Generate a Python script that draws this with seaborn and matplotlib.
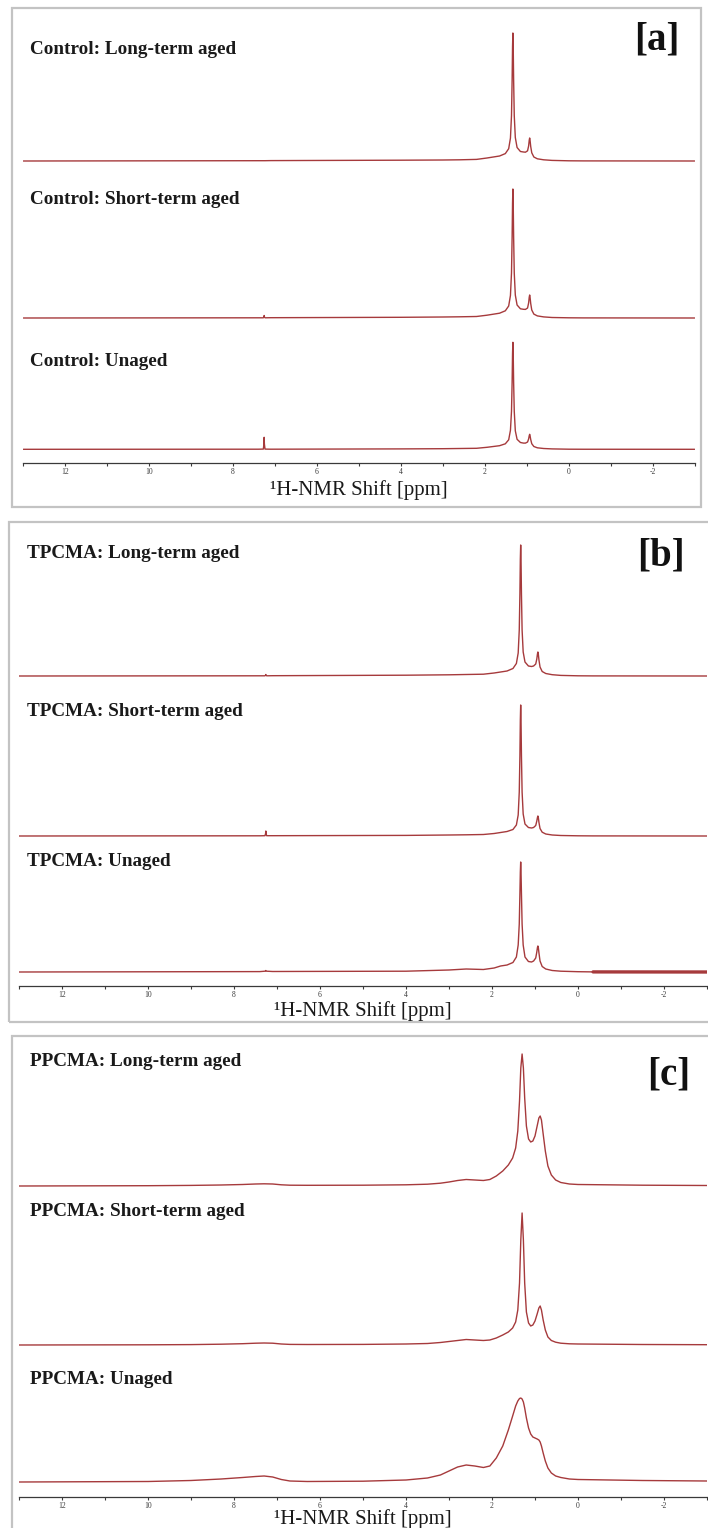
import numpy as np
import pandas as pd
import matplotlib
matplotlib.use("Agg")
import matplotlib.pyplot as plt
from matplotlib.patches import Rectangle
from matplotlib.ticker import MultipleLocator
import seaborn as sns

# ---------------- data ----------------
# shared chemical-shift grid (ppm) for the sharp spectra (Control, TPCMA)
sharp_ppm = [13.0, 7.40, 7.28, 7.265, 7.26, 7.255, 7.24, 7.10, 4.0, 3.0, 2.6, 2.2,
             1.95, 1.80, 1.65, 1.513, 1.433, 1.391, 1.366, 1.351, 1.341, 1.333,
             1.325, 1.315, 1.300, 1.275, 1.233, 1.153, 1.08, 1.033, 0.983, 0.958,
             0.943, 0.933, 0.923, 0.908, 0.883, 0.833, 0.75, 0.60, 0.40, 0.0,
             -0.35, -3.0]

control_long = [0, 0.3, 0.3, 0.3, 0.3, 0.3, 0.3, 0.4, 0.8, 1.0, 1.2, 1.6,
                3.0, 4.0, 5.0, 7.4, 12.3, 22.9, 45.4, 80.8, 114.5, 128,
                114.5, 80.8, 45.4, 23.5, 13.5, 9.5, 9.0, 8.8, 10.2, 15,
                20.8, 23, 20.5, 14.5, 8.2, 4.0, 2.2, 1.2, 0.6, 0.2, 0.1, 0]
control_short = [0, 0.2, 0.2, 1.2, 2.5, 1.2, 0.2, 0.3, 0.7, 1.0, 1.2, 1.5,
                 2.8, 3.8, 4.8, 7.2, 12, 22.5, 45, 81, 115, 129,
                 115, 81, 45, 23, 13, 9.2, 8.7, 8.6, 10, 15,
                 20.8, 23, 20.5, 14.5, 8, 3.9, 2.1, 1.1, 0.5, 0.2, 0.1, 0]
control_unaged = [0, 0.1, 0.2, 5.5, 12, 5.5, 0.2, 0.1, 0.4, 0.6, 0.8, 1.0,
                  2.0, 2.8, 3.6, 5.5, 9.5, 19, 38, 67, 96, 107,
                  96, 67, 38, 18.5, 10, 6.8, 6.2, 6.2, 7.3, 10.3,
                  13.6, 15, 13.4, 9.8, 5.6, 2.8, 1.5, 0.8, 0.4, 0.1, 0.05, 0]

tpcma_long = [0, 0.2, 0.2, 0.8, 1.5, 0.8, 0.2, 0.3, 0.8, 1.2, 1.5, 1.8,
              3.0, 4.0, 5.0, 7.5, 12.5, 23, 46, 82, 117, 131,
              117, 82, 46, 24, 14, 10, 9.5, 10, 12, 17,
              22, 24, 22, 16, 9, 4.5, 2.5, 1.3, 0.6, 0.2, 0.1, 0]
tpcma_short = [0, 0.2, 0.3, 2.5, 5, 2.5, 0.3, 0.3, 0.6, 1.0, 1.2, 1.5,
               2.5, 3.5, 4.5, 6.5, 11, 21, 44, 80, 116, 131,
               116, 80, 44, 22, 12, 8.5, 8, 8.5, 10.5, 15,
               18.5, 20, 18.5, 13.5, 7.5, 3.8, 2, 1, 0.5, 0.2, 0.1, 0]
tpcma_unaged = [0, 0.4, 0.8, 1.2, 1.5, 1.2, 0.8, 0.5, 0.8, 2.0, 3.0, 2.5,
                4.0, 6.0, 7.0, 9.5, 15, 27, 48, 78, 100, 110,
                100, 78, 48, 27, 15, 10.5, 10, 11, 14, 20,
                24.5, 26, 24.5, 19, 11, 5.5, 3, 1.5, 0.8, 0.3, 0.1, 0]

# grid for the broad PPCMA spectra
broad_ppm = [13.0, 10.0, 9.0, 8.3, 7.8, 7.5, 7.3, 7.1, 6.9, 6.7, 6.3, 5.0, 4.0,
             3.5, 3.2, 3.0, 2.8, 2.6, 2.4, 2.2, 2.05, 1.9, 1.75, 1.62, 1.52,
             1.45, 1.40, 1.36, 1.33, 1.30, 1.27, 1.24, 1.20, 1.15, 1.10, 1.05,
             1.00, 0.95, 0.91, 0.88, 0.85, 0.81, 0.76, 0.70, 0.62, 0.52, 0.40,
             0.20, 0.0, -1.5, -3.0]

ppcma_long = [0, 0.3, 0.6, 1.0, 1.5, 2.0, 2.2, 2.0, 1.2, 0.8, 0.7, 0.8, 1.2,
              1.8, 2.8, 4.0, 5.5, 6.5, 6.0, 5.5, 6.5, 10, 15, 21, 28,
              38, 55, 85, 118, 132, 118, 88, 60, 47, 44, 45,
              50, 60, 68, 70, 66, 52, 35, 20, 11, 6, 3.5,
              2, 1.5, 0.8, 0.5]
ppcma_short = [0, 0.2, 0.4, 0.8, 1.3, 1.8, 2.0, 1.8, 1.0, 0.6, 0.5, 0.6, 1.0,
               1.5, 2.5, 3.5, 4.5, 5.5, 5.0, 4.5, 5.0, 7, 10, 13, 17,
               23, 35, 62, 105, 132, 105, 62, 33, 22, 19, 20,
               24, 31, 37, 39, 35, 25, 15, 8, 4.5, 2.8, 1.8,
               1.2, 1.0, 0.5, 0.3]
ppcma_unaged = [0, 0.5, 1.5, 3.0, 4.5, 5.5, 6.0, 5.0, 2.5, 1.0, 0.5, 0.8, 2.0,
                4.0, 7.0, 11, 15, 17, 16, 14.5, 16, 24, 36, 52, 66,
                76, 81, 83.5, 84, 83, 80, 74, 64, 54, 48, 45,
                44, 43, 42, 40, 36, 29, 21, 14, 9, 6, 4.5,
                3, 2.5, 1.5, 1.0]

panel_letters = ["[a]", "[b]", "[c]"]
sample_names = ["Control", "TPCMA", "PPCMA"]
aging_states = ["Long-term aged", "Short-term aged", "Unaged"]
tick_values = [12, 10, 8, 6, 4, 2, 0, -2]
x_label = "\u00b9H-NMR Shift [ppm]"

panel_grids = [sharp_ppm, sharp_ppm, broad_ppm]
panel_series = [[control_long, control_short, control_unaged],
                [tpcma_long, tpcma_short, tpcma_unaged],
                [ppcma_long, ppcma_short, ppcma_unaged]]

for grid, series in zip(panel_grids, panel_series):
    for s in series:
        assert len(s) == len(grid)

# ---------------- layout (pixels) ----------------
W, H = 708, 1528
LINE = "#a63a3c"
layout = [
    dict(box=(12, 8, 701, 507), ax=(23.3, 8, 694.7, 462.7),
         offsets=[301.7, 144.7, 13.4], label_x=30, label_y=[49, 200, 362],
         letter=(657, 40), xlabel_y=490, heavy_from=None),
    dict(box=(9, 522, 716, 1022), ax=(19, 522, 707, 986),
         offsets=[310, 150, 14], label_x=27, label_y=[553, 712, 862],
         letter=(661, 556), xlabel_y=1011, heavy_from=(2, -0.35)),
    dict(box=(12, 1036, 716, 1545), ax=(19, 1036, 707, 1496.7),
         offsets=[310.7, 151.7, 14.7], label_x=30, label_y=[1061, 1212, 1380],
         letter=(669, 1075), xlabel_y=1519, heavy_from=None),
]

sns.set_theme(style="white")
plt.rcParams["font.family"] = ["Liberation Serif", "DejaVu Serif"]

fig = plt.figure(figsize=(W / 100, H / 100), dpi=100)
fig.patch.set_facecolor("white")


def fx(x):
    return x / W


def fy(y):
    return 1 - y / H


for p, lay in enumerate(layout):
    bx0, by0, bx1, by1 = lay["box"]
    fig.add_artist(Rectangle((fx(bx0), fy(by1)), (bx1 - bx0) / W, (by1 - by0) / H,
                             transform=fig.transFigure, fill=False,
                             edgecolor="#c3c3c3", linewidth=1.6, zorder=0))
    l, t, r, b = lay["ax"]
    ax = fig.add_axes([fx(l), fy(b), (r - l) / W, (b - t) / H])
    ax.set_facecolor("none")
    grid = panel_grids[p]
    for k, s in enumerate(panel_series[p]):
        df = pd.DataFrame({"ppm": grid, "intensity": np.array(s, float) + lay["offsets"][k]})
        sns.lineplot(data=df, x="ppm", y="intensity", ax=ax, color=LINE,
                     linewidth=1.0, estimator=None, sort=True)
        if lay["heavy_from"] is not None and lay["heavy_from"][0] == k:
            seg = df[df["ppm"] <= lay["heavy_from"][1]]
            sns.lineplot(data=seg, x="ppm", y="intensity", ax=ax, color=LINE,
                         linewidth=2.4, estimator=None, sort=True)
    ax.set_xlim(13, -3)
    ax.set_ylim(0, b - t)
    for side in ["top", "left", "right"]:
        ax.spines[side].set_visible(False)
    ax.spines["bottom"].set_color("#3a3a3a")
    ax.spines["bottom"].set_linewidth(0.9)
    ax.set_yticks([])
    ax.set_xticks(tick_values)
    ax.set_xticklabels([str(v) for v in tick_values])
    ax.xaxis.set_minor_locator(MultipleLocator(1))
    ax.tick_params(axis="x", which="major", direction="out", length=2.5, width=0.8,
                   pad=1.0, labelsize=5.5, colors="#3a3a3a", bottom=True)
    ax.tick_params(axis="x", which="minor", direction="out", length=1.8, width=0.8,
                   colors="#3a3a3a", bottom=True)
    ax.set_xlabel("")
    ax.set_ylabel("")
    ax.grid(False)

    for k, state in enumerate(aging_states):
        fig.text(fx(lay["label_x"]), fy(lay["label_y"][k]),
                 f"{sample_names[p]}: {state}", ha="left", va="center",
                 fontsize=13.8, fontweight="bold", color="#1a1a1a")
    lx, ly = lay["letter"]
    fig.text(fx(lx), fy(ly), panel_letters[p], ha="center", va="center",
             fontsize=28, fontweight="bold", color="#111111")
    fig.text(fx((l + r) / 2), fy(lay["xlabel_y"]), x_label, ha="center",
             va="center", fontsize=15, color="#1a1a1a")

fig.savefig("out.png", dpi=100, facecolor="white")
